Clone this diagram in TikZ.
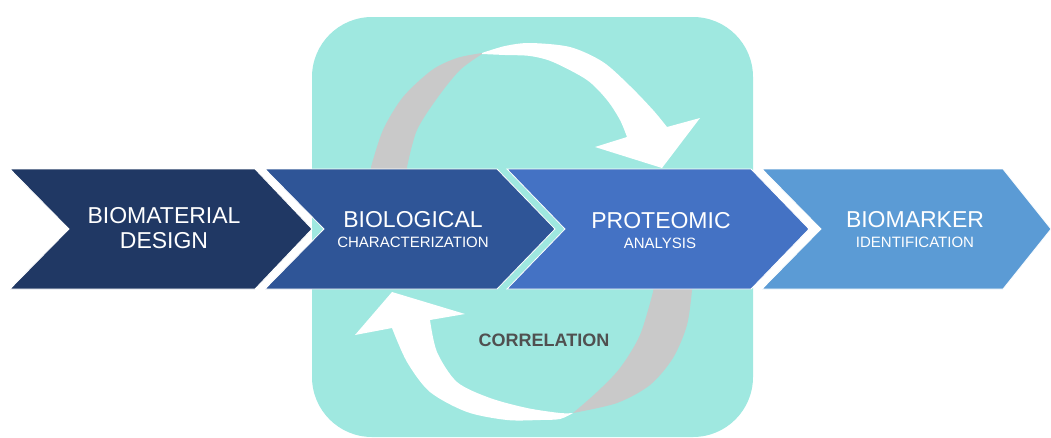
\documentclass[tikz,border=0pt]{standalone}
\usepackage{fontspec}
\setmainfont{Liberation Sans}
\usepackage{tikz}
\usepackage{xcolor}
\usetikzlibrary{positioning}
\definecolor{navy}{HTML}{203864}
\definecolor{royal}{HTML}{2F5597}
\definecolor{cobalt}{HTML}{4472C4}
\definecolor{sky}{HTML}{5B9BD5}
\definecolor{mint}{HTML}{9FE8E0}
\definecolor{ribbon}{HTML}{C9C9C9}
\definecolor{caption}{HTML}{505050}

\begin{document}
\begin{tikzpicture}[x=1pt,y=-1pt,every node/.style={text=white,inner sep=0pt}]
   \tikzstyle{chev}=[draw=white, line width=0.8pt];
   \tikzstyle{bigtxt}=[font=\fontsize{23}{25}\selectfont, anchor=base];
   \tikzstyle{smalltxt}=[font=\fontsize{15}{17}\selectfont, anchor=base];
   \useasboundingbox (0,0) rectangle (1051,437);
   % panel behind the loop
   \fill[mint, rounded corners=60pt] (312,17) rectangle (753,437);
   % upper arrow: back side, then front side
   \fill[ribbon] (371,180) -- plot[smooth] coordinates {(371,167) (383,130) (403,97) (432,70) (457,58) (482,53)}
      -- plot[smooth] coordinates {(482,54) (460,70) (438,97) (417,130) (407,167)} -- (407,180) -- cycle;
   \fill[white] plot[smooth] coordinates {(482,53) (505,46) (530,43) (570,47) (603,62) (630,86) (653,110) (667,127)}
      -- (700,118) -- (662,168) -- (595,147) -- (627,137)
      -- plot[smooth] coordinates {(627,137) (620,120) (607,100) (587,80) (553,62) (530,56) (505,55) (482,54)} -- cycle;
   % lower arrow
   \fill[ribbon] (692,280) -- plot[smooth] coordinates {(692,290) (687,325) (673,358) (650,385) (617,403) (573,413)}
      -- plot[smooth] coordinates {(573,413) (597,392) (620,368) (640,335) (653,292)} -- (655,280) -- cycle;
   \fill[white] (392,292) -- (465,314) -- (430,320)
      -- plot[smooth] coordinates {(430,320) (437,352) (457,382) (490,398) (527,408) (560,413) (573,413)}
      -- plot[smooth] coordinates {(573,413) (560,419) (540,420) (507,420) (467,412) (430,392) (407,362) (392,328)}
      -- (355,335) -- cycle;
   % process chevrons
   \draw[chev, fill=navy]   (10,169) -- (255,169) -- (312,229) -- (255,289) -- (10,289) -- (69,229) -- cycle;
   \draw[chev, fill=royal]  (265,169) -- (497,169) -- (555,229) -- (497,289) -- (265,289) -- (324,229) -- cycle;
   \draw[chev, fill=cobalt] (507,169) -- (751,169) -- (809,229) -- (751,289) -- (507,289) -- (565,229) -- cycle;
   \draw[chev, fill=sky]    (762,169) -- (1003,169) -- (1051,229) -- (1003,289) -- (762,289) -- (821,229) -- cycle;
   % labels
   \node[bigtxt]   (biomat)  at (164,223) {BIOMATERIAL};
   \node[bigtxt]   (design)  at (164,248) {DESIGN};
   \node[bigtxt]   (biolog)  at (413,227) {BIOLOGICAL};
   \node[smalltxt] (charac)  at (413,247) {CHARACTERIZATION};
   \node[bigtxt]   (proteo)  at (661,228) {PROTEOMIC};
   \node[smalltxt] (analys)  at (660,248) {ANALYSIS};
   \node[bigtxt]   (biomark) at (915,227) {BIOMARKER};
   \node[smalltxt] (ident)   at (915,247) {IDENTIFICATION};
   \node[anchor=base, text=caption, font=\bfseries\fontsize{18}{20}\selectfont] (corr) at (544,346) {CORRELATION};
\end{tikzpicture}
\end{document}
